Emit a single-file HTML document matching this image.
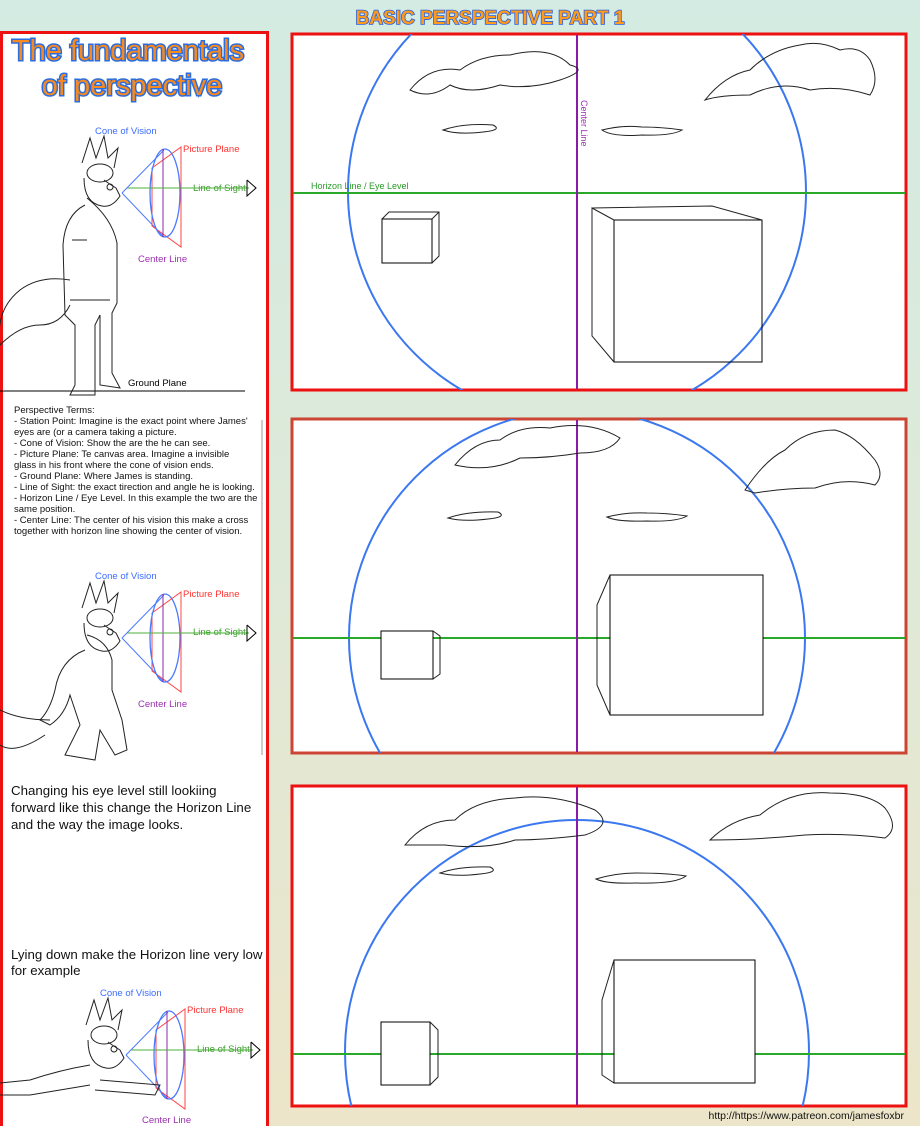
<!DOCTYPE html>
<html><head><meta charset="utf-8"><style>
body{margin:0;width:920px;height:1126px;overflow:hidden;background:linear-gradient(#d3ebe2,#dfe9d8 50%,#ece5c9);font-family:"Liberation Sans",sans-serif}
svg{position:absolute;left:0;top:0}
</style></head><body>
<svg width="920" height="1126" viewBox="0 0 920 1126" font-family="Liberation Sans, sans-serif">
<defs>
<g id="cone">
<line x1="0" y1="0" x2="42" y2="-43" stroke="#4a7aff" stroke-width="1"/>
<line x1="0" y1="0" x2="42" y2="44" stroke="#4a7aff" stroke-width="1"/>
<polygon points="30,-25 59,-46 59,54 30,33" fill="none" stroke="#f44" stroke-width="1"/>
<ellipse cx="43" cy="0" rx="15" ry="44" fill="none" stroke="#4a7aff" stroke-width="1.3"/>
<line x1="41" y1="-44" x2="41" y2="44" stroke="#8a2aa8" stroke-width="1"/>
<line x1="5" y1="-5" x2="127" y2="-5" stroke="#4caf3a" stroke-width="1"/>
<polyline points="125,-13 134,-5 125,3 125,-13" fill="none" stroke="#000" stroke-width="1"/>
</g>
<g id="head" fill="none" stroke="#222" stroke-width="1">
<path d="M-40,-30 l8,-25 l6,20 l8,-22 l4,22 l10,-10 l-4,20"/>
<ellipse cx="-22" cy="-20" rx="13" ry="9"/>
<path d="M-38,-15 q0,25 18,28 q10,2 18,-10 l-4,-8 q-8,-5 -12,-8"/>
<circle cx="-12" cy="-6" r="3"/>
</g>
</defs>
<text x="490" y="24" text-anchor="middle" font-size="19" font-weight="bold" fill="#ff9a1a" stroke="#2a60e0" stroke-width="1.6" paint-order="stroke">BASIC PERSPECTIVE PART 1</text>
<rect x="1.5" y="32.5" width="266" height="1095" fill="#fff" stroke="#e11" stroke-width="3"/>
<text x="128" y="60" text-anchor="middle" font-size="29" fill="#f7891e" stroke="#2a6de0" stroke-width="3" paint-order="stroke">The fundamentals</text>
<text x="132" y="95" text-anchor="middle" font-size="29" fill="#f7891e" stroke="#2a6de0" stroke-width="3" paint-order="stroke">of perspective</text>
<g font-size="9.5">
<text x="95" y="134" fill="#3a6cff">Cone of Vision</text>
<text x="183" y="152" fill="#f33">Picture Plane</text>
<text x="193" y="191" fill="#3aa02a">Line of Sight</text>
<text x="138" y="262" fill="#9a30b0">Center Line</text>
<text x="128" y="386" fill="#000">Ground Plane</text>
<text x="95" y="579" fill="#3a6cff">Cone of Vision</text>
<text x="183" y="597" fill="#f33">Picture Plane</text>
<text x="193" y="635" fill="#3aa02a">Line of Sight</text>
<text x="138" y="707" fill="#9a30b0">Center Line</text>
<text x="100" y="996" fill="#3a6cff">Cone of Vision</text>
<text x="187" y="1013" fill="#f33">Picture Plane</text>
<text x="197" y="1052" fill="#3aa02a">Line of Sight</text>
<text x="142" y="1123" fill="#9a30b0">Center Line</text>
</g>
<use href="#cone" x="122" y="193"/>
<use href="#cone" x="122" y="638"/>
<use href="#cone" x="126" y="1055"/>
<line x1="0" y1="391" x2="245" y2="391" stroke="#000"/>
<line x1="262" y1="420" x2="262" y2="755" stroke="#999"/>
<g fill="none" stroke="#222" stroke-width="1">
<use href="#head" x="122" y="193"/>
<path d="M85,205 q-20,10 -22,40 l2,70 l10,10 l0,60 l-5,10 l25,0 l0,-70 l5,-10 l0,70 l20,3 l-8,-15 l0,-60 l5,-10 l0,-60 q-5,-25 -30,-45"/>
<path d="M70,280 q-30,-5 -50,10 q-25,20 -20,55 q20,-20 40,-20 q20,0 30,-20"/>
<path d="M72,240 l15,0 M70,300 l40,0"/>
<use href="#head" x="122" y="638"/>
<path d="M85,650 q-25,10 -30,40 q-5,20 -15,30 l10,5 q15,-10 20,-30 l10,30 l-15,30 l30,5 l5,-30 l15,25 l12,-5 l-5,-30 l-10,-30 l0,-30 q-5,-20 -25,-25"/>
<path d="M50,720 q-30,0 -50,-10 M45,735 q-30,20 -45,10"/>
<use href="#head" x="126" y="1055"/>
<path d="M90,1065 q-30,5 -60,15 l-30,3 M90,1085 q-30,5 -60,10 l-30,0 M100,1080 l60,5 l-5,10 l-60,-5"/>
</g>
<g font-size="9.5" fill="#111">
<text x="14" y="413">Perspective Terms:</text>
<text x="14" y="424">- Station Point: Imagine is the exact point where James'</text>
<text x="14" y="435">eyes are (or a camera taking a picture.</text>
<text x="14" y="446">- Cone of Vision: Show the are the he can see.</text>
<text x="14" y="457">- Picture Plane: Te canvas area. Imagine a invisible</text>
<text x="14" y="468">glass in his front where the cone of vision ends.</text>
<text x="14" y="479">- Ground Plane: Where James is standing.</text>
<text x="14" y="490">- Line of Sight: the exact tirection and angle he is looking.</text>
<text x="14" y="501">- Horizon Line / Eye Level. In this example the two are the</text>
<text x="14" y="512">same position.</text>
<text x="14" y="523">- Center Line: The center of his vision this make a cross</text>
<text x="14" y="534">together with horizon line showing the center of vision.</text>
</g>
<g font-size="13.3" fill="#111">
<text x="11" y="795">Changing his eye level still lookiing</text>
<text x="11" y="812">forward like this change the Horizon Line</text>
<text x="11" y="829">and the way the image looks.</text>
<text x="11" y="959">Lying down make the Horizon line very low</text>
<text x="11" y="975">for example</text>
</g>
<g stroke-width="3">
<rect x="292" y="34" width="614" height="356" fill="#fff" stroke="#e11"/>
<rect x="292" y="419" width="614" height="334" fill="#fff" stroke="#c43"/>
<rect x="292" y="786" width="614" height="320" fill="#fff" stroke="#e11"/>
</g>
<svg x="292" y="34" width="614" height="356" viewBox="292 34 614 356" style="position:static">
<circle cx="577" cy="192" r="229" fill="none" stroke="#3b78f0" stroke-width="2"/>
</svg>
<line x1="293" y1="193" x2="905" y2="193" stroke="#2aa82a" stroke-width="2"/>
<line x1="577" y1="35" x2="577" y2="389" stroke="#8a1aa8" stroke-width="2"/>
<text x="581" y="100" font-size="9" fill="#9a30b0" transform="rotate(90 581 100)">Center Line</text>
<text x="311" y="189" font-size="9" fill="#2a9a2a">Horizon Line / Eye Level</text>
<g fill="none" stroke="#222" stroke-width="1">
<path d="M410,90 q20,-25 50,-20 q20,-15 50,-15 q40,-10 60,10 q20,5 -10,15 q-30,10 -60,5 q-30,10 -50,0 q-20,15 -40,5z"/>
<path d="M705,100 q20,-25 45,-30 q20,-20 50,-25 q20,-5 40,5 q20,-5 30,10 q10,20 0,35 q-30,-10 -60,-5 q-30,-10 -60,5 q-30,0 -45,5z"/>
<path d="M443,130 q20,-7 50,-5 q10,5 -10,7 q-25,3 -40,-2z"/>
<path d="M602,130 q20,-5 40,-3 q20,0 40,3 q-10,6 -40,5 q-30,2 -40,-5z"/>
<rect x="382" y="219" width="50" height="44" stroke="#000"/>
<path d="M382,219 l7,-7 l50,0 l0,44 l-7,7 M432,219 l7,-7"/>
<rect x="614" y="220" width="148" height="142" stroke="#000"/>
<path d="M614,362 l-22,-26 l0,-128 l22,12 M592,208 l120,-2 l50,14"/>
</g>
<svg x="292" y="419" width="614" height="334" viewBox="292 419 614 334" style="position:static">
<circle cx="577" cy="638" r="228" fill="none" stroke="#3b78f0" stroke-width="2"/>
</svg>
<line x1="293" y1="638" x2="905" y2="638" stroke="#2aa82a" stroke-width="2"/>
<line x1="577" y1="420" x2="577" y2="752" stroke="#8a1aa8" stroke-width="2"/>
<g fill="none" stroke="#222" stroke-width="1">
<path d="M455,465 q20,-25 45,-25 q20,-15 50,-12 q40,-8 70,10 q-10,15 -40,15 q-30,5 -60,5 q-30,15 -65,7z"/>
<path d="M745,490 q20,-30 40,-40 q20,-20 50,-20 q20,5 40,30 q10,15 0,25 q-30,-8 -60,3 q-30,0 -60,5z"/>
<path d="M448,518 q20,-7 50,-6 q10,5 -10,7 q-25,3 -40,-1z"/>
<path d="M607,517 q20,-5 40,-4 q20,0 40,3 q-10,6 -40,5 q-30,1 -40,-4z"/>
<rect x="381" y="631" width="52" height="48" stroke="#000" fill="#fff"/>
<path d="M433,631 l7,5 l0,38 l-7,5"/>
<rect x="610" y="575" width="153" height="140" stroke="#000" fill="#fff"/>
<path d="M610,575 l-13,30 l0,80 l13,30"/>
</g>
<svg x="292" y="786" width="614" height="320" viewBox="292 786 614 320" style="position:static">
<circle cx="577" cy="1052" r="232" fill="none" stroke="#3b78f0" stroke-width="2"/>
</svg>
<line x1="293" y1="1054" x2="905" y2="1054" stroke="#2aa82a" stroke-width="2"/>
<line x1="577" y1="787" x2="577" y2="1105" stroke="#8a1aa8" stroke-width="2"/>
<g fill="none" stroke="#222" stroke-width="1">
<path d="M405,845 q20,-25 50,-25 q20,-20 60,-22 q40,-5 80,12 q20,15 -10,25 q-40,5 -70,5 q-30,10 -70,5z"/>
<path d="M710,840 q20,-20 50,-25 q30,-25 70,-22 q40,0 55,15 q15,20 0,30 q-40,-5 -80,-3 q-50,5 -95,5z"/>
<path d="M440,873 q20,-7 50,-6 q10,5 -10,7 q-25,3 -40,-1z"/>
<path d="M596,879 q20,-6 40,-6 q30,0 50,3 q-10,8 -50,7 q-30,1 -40,-4z"/>
<rect x="381" y="1022" width="49" height="63" stroke="#000" fill="#fff"/>
<path d="M430,1022 l8,8 l0,47 l-8,8"/>
<rect x="614" y="960" width="141" height="123" stroke="#000" fill="#fff"/>
<path d="M614,960 l-12,40 l0,75 l12,8"/>
</g>
<text x="904" y="1119" text-anchor="end" font-size="10.5" fill="#111">http://https://www.patreon.com/jamesfoxbr</text>
</svg>
</body></html>
